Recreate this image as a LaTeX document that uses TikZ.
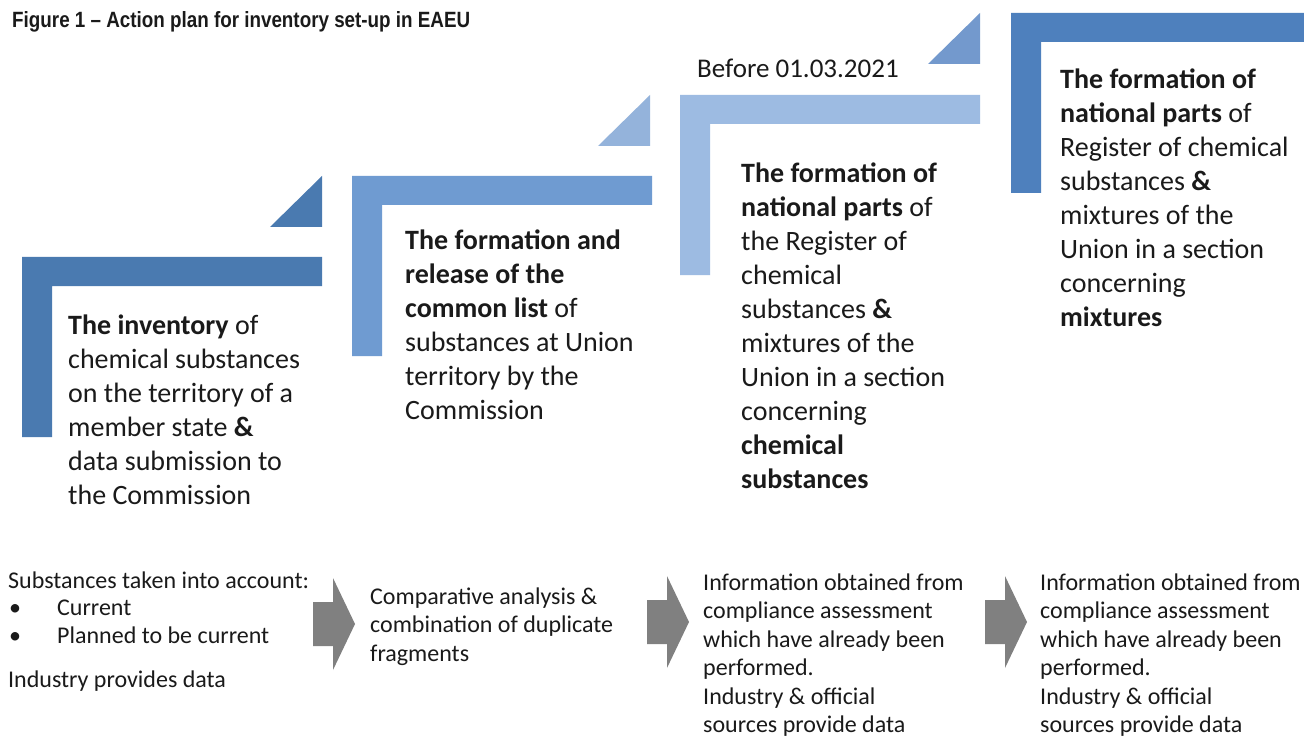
\documentclass[tikz,border=0pt]{standalone}
\usepackage{fontspec}
\setmainfont{Carlito}
\newfontfamily\titlefont{Liberation Sans}
\definecolor{cone}{HTML}{4A7AB0}
\definecolor{ctwo}{HTML}{6F9BD1}
\definecolor{cthree}{HTML}{9DBBE2}
\definecolor{cfour}{HTML}{4E80BD}
\definecolor{tone}{HTML}{4A7AB0}
\definecolor{ttwo}{HTML}{94B3DB}
\definecolor{tthree}{HTML}{7399CD}
\definecolor{agray}{HTML}{808080}
\definecolor{txt}{HTML}{1A1A1A}
\tikzset{
  stepshape/.pic={
    \fill[pic actions] (0,0) -- (300,0) -- (300,29) -- (30,29) -- (30,180) -- (0,180) -- cycle;
  },
  steptri/.pic={
    \fill[pic actions] (0,0) -- (-52,0) -- (0,-51) -- cycle;
  },
  blockarrow/.pic={
    \fill[agray] (0,-22) -- (20,-22) -- (20,-46) -- (42,0) -- (20,46) -- (20,22) -- (0,22) -- cycle;
  },
  bigtext/.style={anchor=base west, inner sep=0pt, text=txt, font=\fontsize{28}{34}\selectfont},
  smalltext/.style={anchor=base west, inner sep=0pt, text=txt, font=\fontsize{24}{28.5}\selectfont}
}
\begin{document}
\begin{tikzpicture}[x=1pt,y=-1pt]
\useasboundingbox (0,0) rectangle (1304,738);
\fill[white] (0,0) rectangle (1304,738);

% title
\node[anchor=base west, inner sep=0pt, text=txt] (title) at (12,28)
  {\resizebox{458pt}{16pt}{\titlefont\bfseries Figure 1 – Action plan for inventory set-up in EAEU}};

% step shapes
\pic[fill=cone] at (22,257) {stepshape};
\pic[fill=ctwo] at (352,176) {stepshape};
\pic[fill=cthree] at (680,95) {stepshape};
\fill[cfour] (1011,13) -- (1304,13) -- (1304,42) -- (1041,42) -- (1041,193) -- (1011,193) -- cycle;

% triangles
\pic[fill=tone] at (322,227) {steptri};
\pic[fill=ttwo] at (650,146) {steptri};
\pic[fill=tthree] at (980,64) {steptri};

% texts of steps
\node[bigtext] (s1) at (68,334) {\begin{tabular}[t]{@{}l@{}}
\textbf{The inventory} of\\
chemical substances\\
on the territory of a\\
member state \textbf{\&}\\
data submission to\\
the Commission
\end{tabular}};

\node[bigtext] (s2) at (405,250) {\begin{tabular}[t]{@{}l@{}}
\textbf{The formation and}\\
\textbf{release of the}\\
\textbf{common list} of\\
substances at Union\\
territory by the\\
Commission
\end{tabular}};

\node[anchor=base west, inner sep=0pt, text=txt, font=\fontsize{27}{32}\selectfont] (date) at (697,78) {Before 01.03.2021};

\node[bigtext] (s3) at (741,183) {\begin{tabular}[t]{@{}l@{}}
\textbf{The formation of}\\
\textbf{national parts} of\\
the Register of\\
chemical\\
substances \textbf{\&}\\
mixtures of the\\
Union in a section\\
concerning\\
\textbf{chemical}\\
\textbf{substances}
\end{tabular}};

\node[bigtext] (s4) at (1060,89) {\begin{tabular}[t]{@{}l@{}}
\textbf{The formation of}\\
\textbf{national parts} of\\
Register of chemical\\
substances \textbf{\&}\\
mixtures of the\\
Union in a section\\
concerning\\
\textbf{mixtures}
\end{tabular}};

% bottom row
\node[smalltext] (b1) at (8,588) {Substances taken into account:};
\node[smalltext] (bul1) at (9,615) {•};
\node[smalltext] (b1a) at (57,615) {Current};
\node[smalltext] (bul2) at (9,643) {•};
\node[smalltext] (b1b) at (57,643) {Planned to be current};
\node[smalltext] (b1c) at (8,687) {Industry provides data};

\pic at (313,624) {blockarrow};

\node[smalltext] (b2) at (370,604) {\begin{tabular}[t]{@{}l@{}}
Comparative analysis \&\\
combination of duplicate\\
fragments
\end{tabular}};

\pic at (647,622) {blockarrow};

\node[smalltext] (b3) at (703,590) {\begin{tabular}[t]{@{}l@{}}
Information obtained from\\
compliance assessment\\
which have already been\\
performed.\\
Industry \& official\\
sources provide data
\end{tabular}};

\pic at (985,622) {blockarrow};

\node[smalltext] (b4) at (1040,590) {\begin{tabular}[t]{@{}l@{}}
Information obtained from\\
compliance assessment\\
which have already been\\
performed.\\
Industry \& official\\
sources provide data
\end{tabular}};
\end{tikzpicture}
\end{document}
